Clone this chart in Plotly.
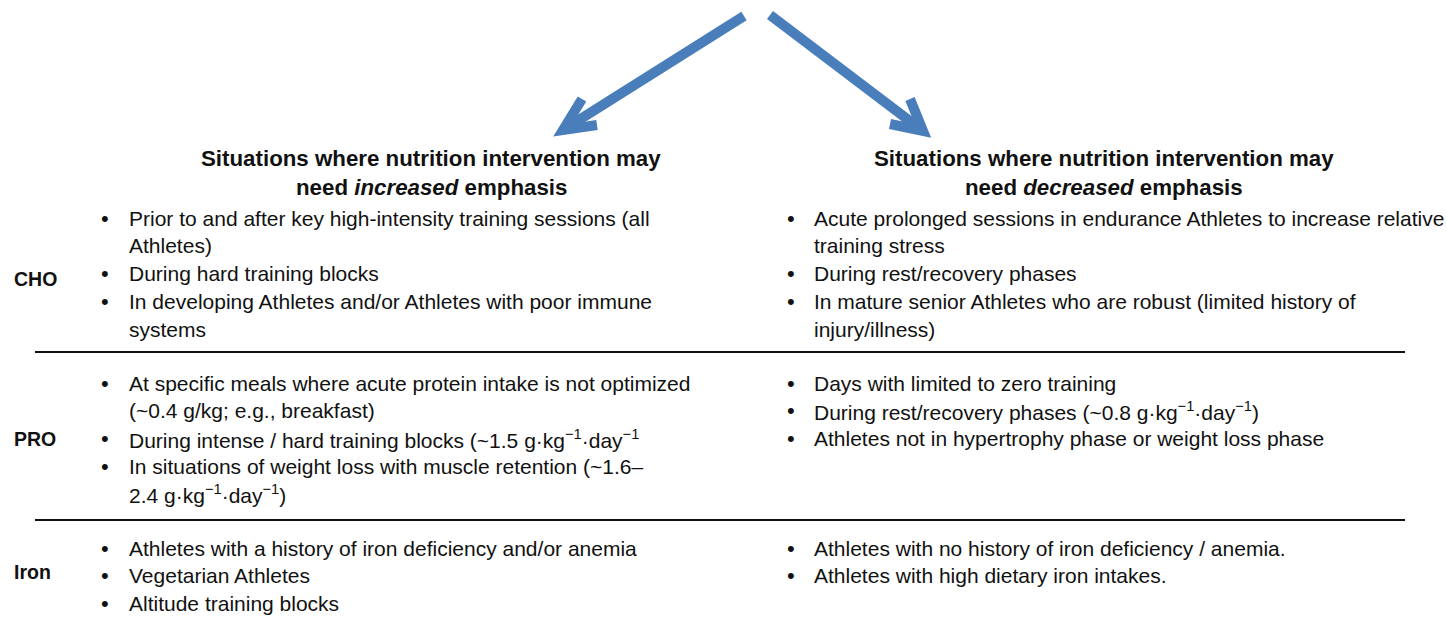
import plotly.graph_objects as go

W, H = 1447, 627
FONT = "Liberation Sans"
ARROW_COLOR = "#4A7EBB"

categories = ["CHO", "PRO", "Iron"]

header_increased = ["Situations where nutrition intervention may", "need <i>increased</i> emphasis"]
header_decreased = ["Situations where nutrition intervention may", "need <i>decreased</i> emphasis"]

# each item = list of wrapped lines
increased_items = {
    "CHO": [
        ["Prior to and after key high-intensity training sessions (all", "Athletes)"],
        ["During hard training blocks"],
        ["In developing Athletes and/or Athletes with poor immune", "systems"],
    ],
    "PRO": [
        ["At specific meals where acute protein intake is not optimized", "(~0.4 g/kg; e.g., breakfast)"],
        ["During intense / hard training blocks (~1.5 g·kg<sup>−1</sup>·day<sup>−1</sup>"],
        ["In situations of weight loss with muscle retention (~1.6–", "2.4 g·kg<sup>−1</sup>·day<sup>−1</sup>)"],
    ],
    "Iron": [
        ["Athletes with a history of iron deficiency and/or anemia"],
        ["Vegetarian Athletes"],
        ["Altitude training blocks"],
    ],
}

decreased_items = {
    "CHO": [
        ["Acute prolonged sessions in endurance Athletes to increase relative", "training stress"],
        ["During rest/recovery phases"],
        ["In mature senior Athletes who are robust (limited history of", "injury/illness)"],
    ],
    "PRO": [
        ["Days with limited to zero training"],
        ["During rest/recovery phases (~0.8 g·kg<sup>−1</sup>·day<sup>−1</sup>)"],
        ["Athletes not in hypertrophy phase or weight loss phase"],
    ],
    "Iron": [
        ["Athletes with no history of iron deficiency / anemia."],
        ["Athletes with high dietary iron intakes."],
    ],
}

# layout parameters
section_top = {"CHO": 218, "PRO": 383, "Iron": 548}
label_y = {"CHO": 279, "PRO": 439, "Iron": 572}
separators = [352, 520]
LINE_H = 27.8
FS = 21

fig = go.Figure()
fig.add_trace(go.Scatter(x=[0, W], y=[0, H], mode="markers",
                         marker=dict(opacity=0), hoverinfo="skip", showlegend=False))

ann = []

def txt(x, y, t, size=FS, anchor="left", bold=False):
    if bold:
        t = "<b>" + t + "</b>"
    ann.append(dict(x=x, y=y, xref="x", yref="y", text=t, showarrow=False,
                    xanchor=anchor, yanchor="middle",
                    font=dict(family=FONT, size=size, color="#111111")))

# headers
for i, line in enumerate(header_increased):
    txt(431, 158 + i * 29, line, size=22.3, anchor="center", bold=True)
for i, line in enumerate(header_decreased):
    txt(1104, 158 + i * 29, line, size=22.3, anchor="center", bold=True)

columns = [(increased_items, 99, 127), (decreased_items, 785, 812)]
for cat in categories:
    txt(12, label_y[cat], cat, size=19.5, bold=True)
    for items, bx, tx in columns:
        y = section_top[cat]
        for item in items[cat]:
            txt(bx, y, "•", size=22, anchor="left")
            for line in item:
                txt(tx, y, line)
                y += LINE_H

shapes = []
for sy in separators:
    shapes.append(dict(type="line", x0=35, x1=1405, y0=sy, y1=sy, xref="x", yref="y",
                       line=dict(color="#111111", width=2)))

# arrows
def arrow(x0, y0, tip, a1, a2):
    shapes.append(dict(type="path", xref="x", yref="y",
                       path=f"M{x0},{y0} L{tip[0]},{tip[1]}",
                       line=dict(color=ARROW_COLOR, width=10)))
    shapes.append(dict(type="path", xref="x", yref="y",
                       path=f"M{a1[0]},{a1[1]} L{tip[0]},{tip[1]} L{a2[0]},{a2[1]}",
                       line=dict(color=ARROW_COLOR, width=10)))

arrow(744, 16, (563, 130), (582, 99), (597, 125))
arrow(770, 15, (923, 131), (910, 99), (890, 124))

fig.update_layout(
    width=W, height=H, autosize=False,
    margin=dict(l=0, r=0, t=0, b=0),
    paper_bgcolor="white", plot_bgcolor="white",
    xaxis=dict(range=[0, W], visible=False, fixedrange=True),
    yaxis=dict(range=[H, 0], visible=False, fixedrange=True),
    annotations=ann, shapes=shapes, showlegend=False,
)

fig.write_html("out.html", config={"displayModeBar": False},
               post_script="document.body.style.margin='0px';document.body.style.overflow='hidden';")
